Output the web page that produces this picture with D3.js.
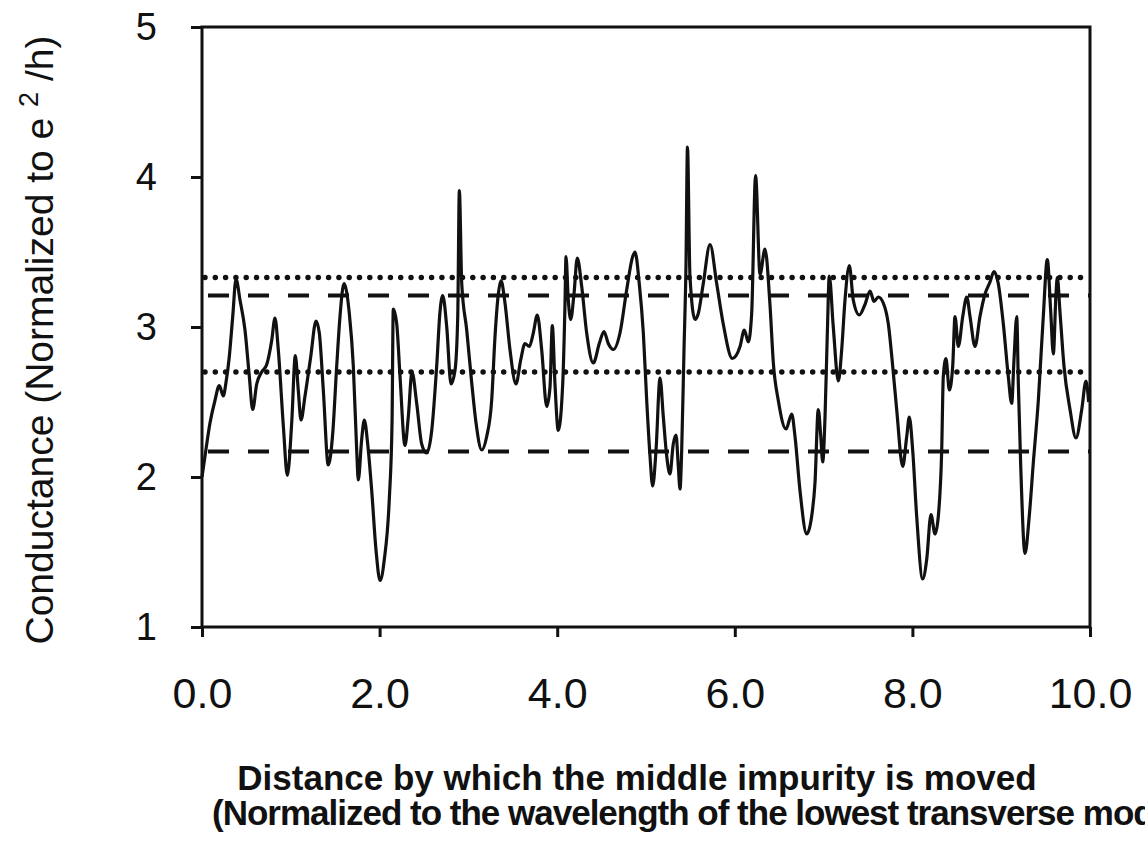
<!DOCTYPE html>
<html>
<head>
<meta charset="utf-8">
<script src="https://cdn.jsdelivr.net/npm/d3@7"></script>
<style>
  html, body { margin: 0; padding: 0; background: #fff; }
  svg { display: block; }
</style>
</head>
<body>
<svg id="chart" width="1145" height="843"></svg>
<script>
// Conductance vs. displacement of the middle impurity
const distance = [
  0.000,0.034,0.090,0.146,0.195,0.240,0.270,0.307,0.346,0.383,0.428,0.484,0.533,0.571,0.616,0.672,0.729,0.785,0.822,0.859,
  0.916,0.961,1.010,1.051,1.084,1.115,1.160,1.224,1.284,1.321,1.366,1.422,1.472,1.517,1.554,1.599,1.659,1.704,1.742,1.760,
  1.798,1.828,1.866,1.911,1.960,2.005,2.053,2.109,2.140,2.154,2.193,2.230,2.286,2.323,2.365,2.418,2.474,2.530,2.587,2.643,
  2.680,2.711,2.756,2.804,2.849,2.880,2.898,2.925,2.981,3.037,3.086,3.150,3.206,3.262,3.300,3.337,3.367,3.412,3.468,3.536,
  3.589,3.637,3.686,3.731,3.776,3.825,3.882,3.919,3.945,3.975,4.012,4.062,4.088,4.099,4.125,4.152,4.189,4.226,4.276,4.332,
  4.407,4.474,4.527,4.575,4.632,4.707,4.783,4.850,4.876,4.924,4.970,5.008,5.045,5.075,5.113,5.158,5.195,5.233,5.270,5.307,
  5.338,5.364,5.383,5.402,5.428,5.450,5.467,5.495,5.552,5.589,5.645,5.721,5.796,5.870,5.972,6.059,6.107,6.152,6.190,6.234,
  6.284,6.340,6.396,6.434,6.490,6.577,6.641,6.678,6.734,6.810,6.866,6.903,6.940,6.967,6.990,7.016,7.042,7.064,7.109,7.166,
  7.204,7.241,7.290,7.334,7.402,7.466,7.523,7.568,7.616,7.672,7.729,7.778,7.823,7.891,7.936,7.965,8.003,8.048,8.116,8.161,
  8.209,8.255,8.292,8.330,8.348,8.378,8.416,8.454,8.480,8.517,8.567,8.612,8.649,8.705,8.761,8.818,8.874,8.919,8.967,9.024,
  9.080,9.118,9.144,9.175,9.193,9.220,9.268,9.316,9.361,9.418,9.474,9.519,9.557,9.587,9.617,9.632,9.662,9.707,9.775,9.842,
  9.907,9.955,9.985
];
const conductance = [
  2.00,2.14,2.36,2.51,2.61,2.54,2.63,2.80,3.07,3.32,3.18,2.98,2.67,2.45,2.62,2.70,2.75,2.91,3.06,2.85,
  2.34,2.01,2.36,2.81,2.58,2.38,2.54,2.80,3.04,2.96,2.58,2.08,2.29,2.74,3.07,3.29,3.09,2.74,2.18,1.98,
  2.25,2.38,2.22,1.91,1.51,1.31,1.45,1.85,2.36,3.12,3.02,2.67,2.21,2.40,2.70,2.49,2.22,2.16,2.31,2.74,
  3.10,3.21,3.00,2.62,2.71,3.07,3.91,3.29,2.98,2.63,2.36,2.18,2.27,2.51,2.94,3.22,3.31,3.16,2.85,2.62,
  2.78,2.89,2.87,2.96,3.08,2.85,2.47,2.60,3.01,2.62,2.31,2.62,3.16,3.47,3.18,3.05,3.22,3.46,3.27,2.96,
  2.76,2.89,2.97,2.89,2.85,2.96,3.25,3.47,3.50,3.29,2.96,2.51,2.14,1.94,2.18,2.66,2.40,2.14,2.02,2.22,
  2.28,2.07,1.92,2.18,2.85,3.40,4.20,3.34,3.05,3.09,3.29,3.55,3.29,3.02,2.79,2.87,2.98,2.90,3.09,4.01,
  3.35,3.52,3.15,2.76,2.51,2.32,2.42,2.27,1.91,1.62,1.74,1.96,2.45,2.28,2.10,2.40,2.96,3.34,3.00,2.64,
  2.85,3.18,3.41,3.18,3.08,3.15,3.24,3.17,3.20,3.16,3.02,2.74,2.45,2.07,2.27,2.40,2.18,1.74,1.32,1.45,
  1.75,1.62,1.74,2.18,2.67,2.79,2.58,2.74,3.07,2.87,3.07,3.20,3.07,2.87,3.07,3.22,3.30,3.37,3.29,3.02,
  2.67,2.49,2.78,3.07,2.62,2.07,1.49,1.74,2.09,2.51,3.07,3.45,3.11,2.82,3.22,3.33,3.10,2.74,2.45,2.26,
  2.45,2.64,2.50
];

// Reference levels
const dottedLevels = [3.33, 2.70];
const dashedLevels = [3.21, 2.17];

// Axis ticks
const xTicks = [0, 2, 4, 6, 8, 10];
const xTickLabels = ["0.0", "2.0", "4.0", "6.0", "8.0", "10.0"];
const yTicks = [1, 2, 3, 4, 5];
const yTickLabels = ["1", "2", "3", "4", "5"];

const xTitle1 = "Distance by which the middle impurity is moved";
const xTitle2 = "(Normalized to the wavelength of the lowest transverse mode)";

const svg = d3.select("#chart");
svg.append("rect").attr("width", 1145).attr("height", 843).attr("fill", "#fff");

const plotLeft = 202, plotRight = 1090, plotTop = 27, plotBottom = 627;
const x = d3.scaleLinear().domain([0, 10]).range([plotLeft, plotRight]);
const y = d3.scaleLinear().domain([1, 5]).range([plotBottom, plotTop]);

const ink = "#111";
const font = "'Liberation Sans', Arial, sans-serif";

// Frame
svg.append("rect")
  .attr("x", plotLeft).attr("y", plotTop)
  .attr("width", plotRight - plotLeft).attr("height", plotBottom - plotTop)
  .attr("fill", "none").attr("stroke", ink).attr("stroke-width", 3);

// Axes
const xAxis = d3.axisBottom(x).tickValues(xTicks)
  .tickFormat((d, i) => xTickLabels[i]).tickSize(10).tickPadding(40).tickSizeOuter(0);
const gx = svg.append("g").attr("transform", `translate(0,${plotBottom})`).call(xAxis);
gx.select(".domain").remove();
gx.selectAll(".tick line").attr("stroke", ink).attr("stroke-width", 3);
gx.selectAll(".tick text")
  .attr("fill", ink)
  .style("font-family", font)
  .style("font-size", "43px");

const yAxis = d3.axisLeft(y).tickValues(yTicks)
  .tickFormat((d, i) => yTickLabels[i]).tickSize(11).tickPadding(34).tickSizeOuter(0);
const gy = svg.append("g").attr("transform", `translate(${plotLeft},0)`).call(yAxis);
gy.select(".domain").remove();
gy.selectAll(".tick line").attr("stroke", ink).attr("stroke-width", 3);
gy.selectAll(".tick text")
  .attr("fill", ink)
  .style("font-family", font)
  .style("font-size", "38px");

// Reference lines
svg.append("g").selectAll("line")
  .data(dottedLevels).join("line")
  .attr("x1", plotLeft + 3).attr("x2", plotRight)
  .attr("y1", d => y(d)).attr("y2", d => y(d))
  .attr("stroke", ink).attr("stroke-width", 5.5)
  .attr("stroke-linecap", "round")
  .attr("stroke-dasharray", "0 10.3");

svg.append("g").selectAll("line")
  .data(dashedLevels).join("line")
  .attr("x1", plotLeft + 6).attr("x2", plotRight)
  .attr("y1", d => y(d)).attr("y2", d => y(d))
  .attr("stroke", ink).attr("stroke-width", 4)
  .attr("stroke-dasharray", "21 19");

// Conductance trace
const pts = distance.map((d, i) => [d, conductance[i]]);
const line = d3.line()
  .x(d => x(d[0])).y(d => y(d[1]))
  .curve(d3.curveMonotoneX);
svg.append("path")
  .datum(pts)
  .attr("d", line)
  .attr("fill", "none")
  .attr("stroke", ink)
  .attr("stroke-width", 3.2)
  .attr("stroke-linejoin", "round");

// Y title
const yt = svg.append("text")
  .attr("transform", "translate(53,340) rotate(-90)")
  .attr("text-anchor", "middle")
  .attr("fill", ink)
  .style("font-family", font)
  .style("font-size", "39px");
yt.append("tspan").text("Conductance (Normalized to e ");
yt.append("tspan").attr("dy", -15).style("font-size", "27px").text("2");
yt.append("tspan").attr("dy", 15).text(" /h)");

// X title (two lines)
svg.append("text")
  .attr("x", 637).attr("y", 790)
  .attr("text-anchor", "middle")
  .attr("fill", ink)
  .style("font-family", font)
  .style("font-weight", "bold")
  .style("font-size", "35px")
  .text(xTitle1);
svg.append("text")
  .attr("x", 212).attr("y", 825)
  .attr("text-anchor", "start")
  .attr("fill", ink)
  .style("font-family", font)
  .style("font-weight", "bold")
  .style("font-size", "35px")
  .style("letter-spacing", "-1px")
  .text(xTitle2);
</script>
</body>
</html>
